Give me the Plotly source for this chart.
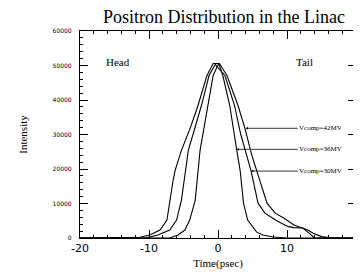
import plotly.graph_objects as go

# Vcomp = 42 MV (widest)
t42 = [-20, -14, -11.3, -9.9, -8.4, -7.4, -7.0, -6.5, -6.2, -5.3, -4.0, -2.9, -1.6, -0.7, 0.2, 1.3, 2.9, 3.9, 4.9, 5.8, 7.1, 8.3, 9.7, 11.0, 12.1, 13.0, 13.8, 15.0, 16.5, 20]
i42 = [0, 0, 200, 870, 2300, 5200, 11000, 16800, 19700, 25400, 32000, 38400, 47100, 50600, 50600, 47100, 38400, 31800, 24000, 18500, 10100, 7200, 5600, 3800, 2900, 2300, 1400, 400, 0, 0]

# Vcomp = 30 MV (middle)
t30 = [-20, -10.5, -8.7, -7.0, -6.0, -5.3, -4.3, -3.3, -2.4, -1.3, -0.4, 1.0, 2.4, 3.3, 4.8, 5.8, 6.8, 8.5, 10.2, 11.0, 12.3, 13.2, 14.0, 20]
i30 = [0, 0, 870, 2300, 5200, 11000, 25400, 32000, 38400, 47100, 50300, 47100, 38400, 30000, 19400, 10100, 7200, 5000, 3300, 3000, 2900, 1400, 0, 0]

# Vcomp = 36 MV (narrowest)
t36 = [-20, -7.0, -5.8, -4.8, -4.1, -3.3, -2.6, -1.4, -0.7, 0.1, 0.7, 1.7, 2.4, 2.7, 3.2, 3.7, 4.3, 5.6, 6.5, 8.0, 10.0, 20]
i36 = [0, 0, 870, 2300, 5200, 11000, 25400, 38400, 47100, 50600, 47100, 38400, 30300, 25700, 19700, 10100, 5200, 1700, 870, 300, 0, 0]

x_ticks = [-20, -10, 0, 10, 20]
y_ticks = [0, 10000, 20000, 30000, 40000, 50000, 60000]

fig = go.Figure()
line = dict(color="black", width=1.1)
for t, v, name in [(t42, i42, "Vcomp=42MV"), (t30, i30, "Vcomp=30MV"), (t36, i36, "Vcomp=36MV")]:
    fig.add_trace(go.Scatter(x=t, y=v, mode="lines", line=line, name=name, showlegend=False))

serif = "Liberation Serif"
anno_font = dict(family=serif, size=7, color="black")
labels = [("Vcomp=42MV", 4.0, 31800, 14.9, 31800),
          ("Vcomp=36MV", 2.7, 25700, 14.9, 25700),
          ("Vcomp=30MV", 4.8, 19400, 14.9, 19400)]
for text, xa, ya, xt, yt in labels:
    fig.add_annotation(x=xa, y=ya, ax=xt, ay=yt, axref="x", ayref="y", xref="x", yref="y",
                       text=text, showarrow=True, arrowhead=2, arrowsize=0.6, arrowwidth=0.8,
                       arrowcolor="black", font=anno_font)

fig.add_annotation(x=-14.5, y=51000, text="Head", showarrow=False, xref="x", yref="y",
                   font=dict(family=serif, size=11, color="black"))
fig.add_annotation(x=12.5, y=51000, text="Tail", showarrow=False, xref="x", yref="y",
                   font=dict(family=serif, size=11, color="black"))

fig.update_layout(
    width=353, height=264,
    margin=dict(l=72, r=5, t=23, b=34),
    paper_bgcolor="white", plot_bgcolor="white",
    title=dict(text="Positron Distribution in the Linac", x=0.612, xanchor="center", y=0.99, yanchor="top",
               font=dict(family=serif, size=18, color="black")),
)
fig.update_xaxes(range=[-20, 20], tickvals=x_ticks, ticktext=[str(v) for v in x_ticks],
                 ticks="inside", ticklen=8, tickwidth=1, tickcolor="black",
                 minor=dict(dtick=2, ticks="inside", ticklen=3, tickcolor="black"),
                 showline=True, linecolor="black", linewidth=1.2, mirror="ticks",
                 showgrid=False, zeroline=False, automargin=False,
                 tickfont=dict(family="DejaVu Sans", size=11, color="black"),
                 title=dict(text="Time(psec)", font=dict(family=serif, size=11, color="black"), standoff=5))
fig.update_yaxes(range=[0, 60000], tickvals=y_ticks, ticktext=[str(v) for v in y_ticks],
                 ticks="inside", ticklen=8, tickwidth=1, tickcolor="black",
                 minor=dict(dtick=2000, ticks="inside", ticklen=3, tickcolor="black"),
                 showline=True, linecolor="black", linewidth=1.2, mirror="ticks",
                 showgrid=False, zeroline=False, automargin=False, ticklabelstandoff=6,
                 tickfont=dict(family="DejaVu Sans", size=6, color="black"),
                 title=dict(text="Intensity", font=dict(family=serif, size=11, color="black"), standoff=22))

fig.write_html("out.html")
